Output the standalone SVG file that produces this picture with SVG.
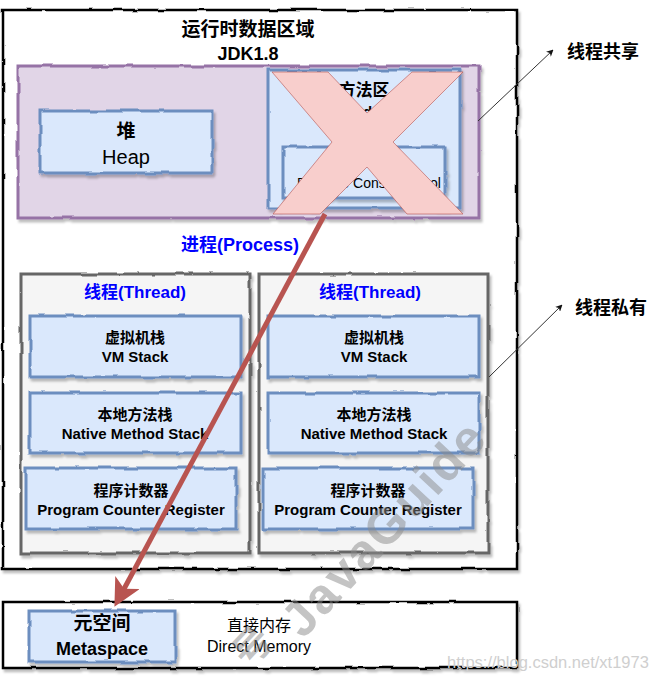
<svg xmlns="http://www.w3.org/2000/svg" width="655" height="678" viewBox="0 0 655 678">
<style>
  text { font-family: "Liberation Sans", "Noto Sans CJK SC", sans-serif; text-anchor: middle; fill: #000; }
  .b { font-weight: bold; }
  .blue { fill: #0000ff; font-weight: bold; }
  .outer { fill: #ffffff; stroke: #000; stroke-width: 2.5; }
  .purple { fill: #e1d5e7; stroke: #9673a6; stroke-width: 3; }
  .bluebox { fill: #dae8fc; stroke: #6c8ebf; stroke-width: 3; }
  .thread { fill: #f5f5f5; stroke: #666666; stroke-width: 3; }
  .thin { fill: none; stroke: #333; stroke-width: 1; }
  .wm { fill: #8a8a8a; fill-opacity: 0.5; font-weight: bold; font-family: "Liberation Sans", "Noto Sans CJK SC", sans-serif; }
</style>
<defs>
  <filter id="sk" x="-5%" y="-8%" width="112%" height="120%">
    <feTurbulence type="fractalNoise" baseFrequency="0.05" numOctaves="2" seed="4" result="n"/>
    <feDisplacementMap in="SourceGraphic" in2="n" scale="3" xChannelSelector="R" yChannelSelector="G" result="d"/>
    <feDropShadow in="d" dx="2" dy="3" stdDeviation="1.2" flood-color="#000" flood-opacity="0.25"/>
  </filter>
  <marker id="ah" viewBox="0 0 10 10" refX="9" refY="5" markerWidth="7" markerHeight="7" markerUnits="userSpaceOnUse" orient="auto">
    <path d="M0,0 L10,5 L0,10 L3,5 Z" fill="#111"/>
  </marker>
  <marker id="rah" viewBox="0 0 10 10" refX="8" refY="5" markerWidth="5.5" markerHeight="5.5" orient="auto">
    <path d="M0,0 L10,5 L0,10 L2.5,5 Z" fill="#b85450"/>
  </marker>
</defs>

<g id="runtime-area">
  <rect class="outer" x="3" y="10" width="514" height="559" filter="url(#sk)"/>
  <text class="b" x="248" y="36" font-size="19">运行时数据区域</text>
  <text class="b" x="248" y="60" font-size="18">JDK1.8</text>
</g>

<g id="shared">
  <rect class="purple" x="18" y="66" width="461" height="152" filter="url(#sk)"/>
</g>

<g id="heap">
  <rect class="bluebox" x="40" y="111" width="172" height="62" filter="url(#sk)"/>
  <text class="b" x="126" y="138" font-size="19">堆</text>
  <text x="126" y="164" font-size="20">Heap</text>
</g>

<g id="method-area">
  <rect class="bluebox" x="268" y="70" width="192" height="138" filter="url(#sk)"/>
  <text class="b" x="364" y="96" font-size="17">方法区</text>
  <text class="b" x="364" y="117" font-size="15">Method Area</text>
  <rect class="bluebox" x="283" y="147" width="162" height="51" filter="url(#sk)"/>
  <text x="369" y="188" font-size="14">Runtime Constant Pool</text>
</g>

<g id="cross">
  <polygon points="272,72 328,72 367,113 412,72 463,72 393,142 463,214 407,214 367,167 320,214 273,214 332,142" fill="#f8cecc" stroke="#b85450" stroke-width="1" stroke-opacity="0.6"/>
</g>

<g id="process-label">
  <text class="blue" x="240" y="251" font-size="18">进程(Process)</text>
</g>

<g id="thread-1">
  <rect class="thread" x="21" y="274" width="229" height="279" filter="url(#sk)"/>
  <text class="blue" x="135" y="298" font-size="17">线程(Thread)</text>
  <g id="vm-stack-1">
    <rect class="bluebox" x="30" y="316" width="211" height="61" filter="url(#sk)"/>
    <text class="b" x="135" y="343" font-size="15">虚拟机栈</text>
    <text class="b" x="135" y="362" font-size="15">VM Stack</text>
  </g>
  <g id="native-stack-1">
    <rect class="bluebox" x="30" y="393" width="211" height="60" filter="url(#sk)"/>
    <text class="b" x="135" y="420" font-size="15">本地方法栈</text>
    <text class="b" x="135" y="439" font-size="15">Native Method Stack</text>
  </g>
  <g id="pc-1">
    <rect class="bluebox" x="26" y="468" width="210" height="61" filter="url(#sk)"/>
    <text class="b" x="131" y="496" font-size="15">程序计数器</text>
    <text class="b" x="131" y="515" font-size="15">Program Counter Register</text>
  </g>
</g>

<g id="thread-2">
  <rect class="thread" x="259" y="274" width="229" height="279" filter="url(#sk)"/>
  <text class="blue" x="370" y="298" font-size="17">线程(Thread)</text>
  <g id="vm-stack-2">
    <rect class="bluebox" x="268" y="316" width="211" height="61" filter="url(#sk)"/>
    <text class="b" x="374" y="343" font-size="15">虚拟机栈</text>
    <text class="b" x="374" y="362" font-size="15">VM Stack</text>
  </g>
  <g id="native-stack-2">
    <rect class="bluebox" x="268" y="393" width="211" height="60" filter="url(#sk)"/>
    <text class="b" x="374" y="420" font-size="15">本地方法栈</text>
    <text class="b" x="374" y="439" font-size="15">Native Method Stack</text>
  </g>
  <g id="pc-2">
    <rect class="bluebox" x="263" y="468" width="210" height="61" filter="url(#sk)"/>
    <text class="b" x="368" y="496" font-size="15">程序计数器</text>
    <text class="b" x="368" y="515" font-size="15">Program Counter Register</text>
  </g>
</g>

<g id="native-memory">
  <rect class="outer" x="3" y="602" width="514" height="66" filter="url(#sk)"/>
  <g id="metaspace">
    <rect class="bluebox" x="29" y="611" width="146" height="51" filter="url(#sk)"/>
    <text class="b" x="102" y="630" font-size="19">元空间</text>
    <text class="b" x="102" y="655" font-size="18">Metaspace</text>
  </g>
  <g id="direct-memory">
    <text x="259" y="631" font-size="16">直接内存</text>
    <text x="259" y="652" font-size="16">Direct Memory</text>
  </g>
</g>

<g id="labels">
  <text class="b" x="603" y="58" font-size="18">线程共享</text>
  <text class="b" x="611" y="314" font-size="18">线程私有</text>
</g>

<g id="connectors">
  <line class="thin" x1="478" y1="121" x2="553" y2="50" marker-end="url(#ah)"/>
  <line class="thin" x1="489" y1="377" x2="562" y2="305" marker-end="url(#ah)"/>
  <line x1="325" y1="214" x2="117" y2="602" stroke="#b85450" stroke-width="5" marker-end="url(#rah)"/>
</g>

<g id="watermark">
  <g transform="translate(303,640) rotate(-47)">
    <text class="wm" x="0" y="0" font-size="50" text-anchor="start" style="text-anchor:start" textLength="272" lengthAdjust="spacing">JavaGuide</text>
  </g>
  <g transform="translate(252,646) rotate(-47)">
    <text class="wm" x="0" y="14" font-size="38">号</text>
  </g>
  <text x="548" y="668" font-size="16.5" style="fill:#cfcfcf">https://blog.csdn.net/xt1973</text>
</g>
</svg>
